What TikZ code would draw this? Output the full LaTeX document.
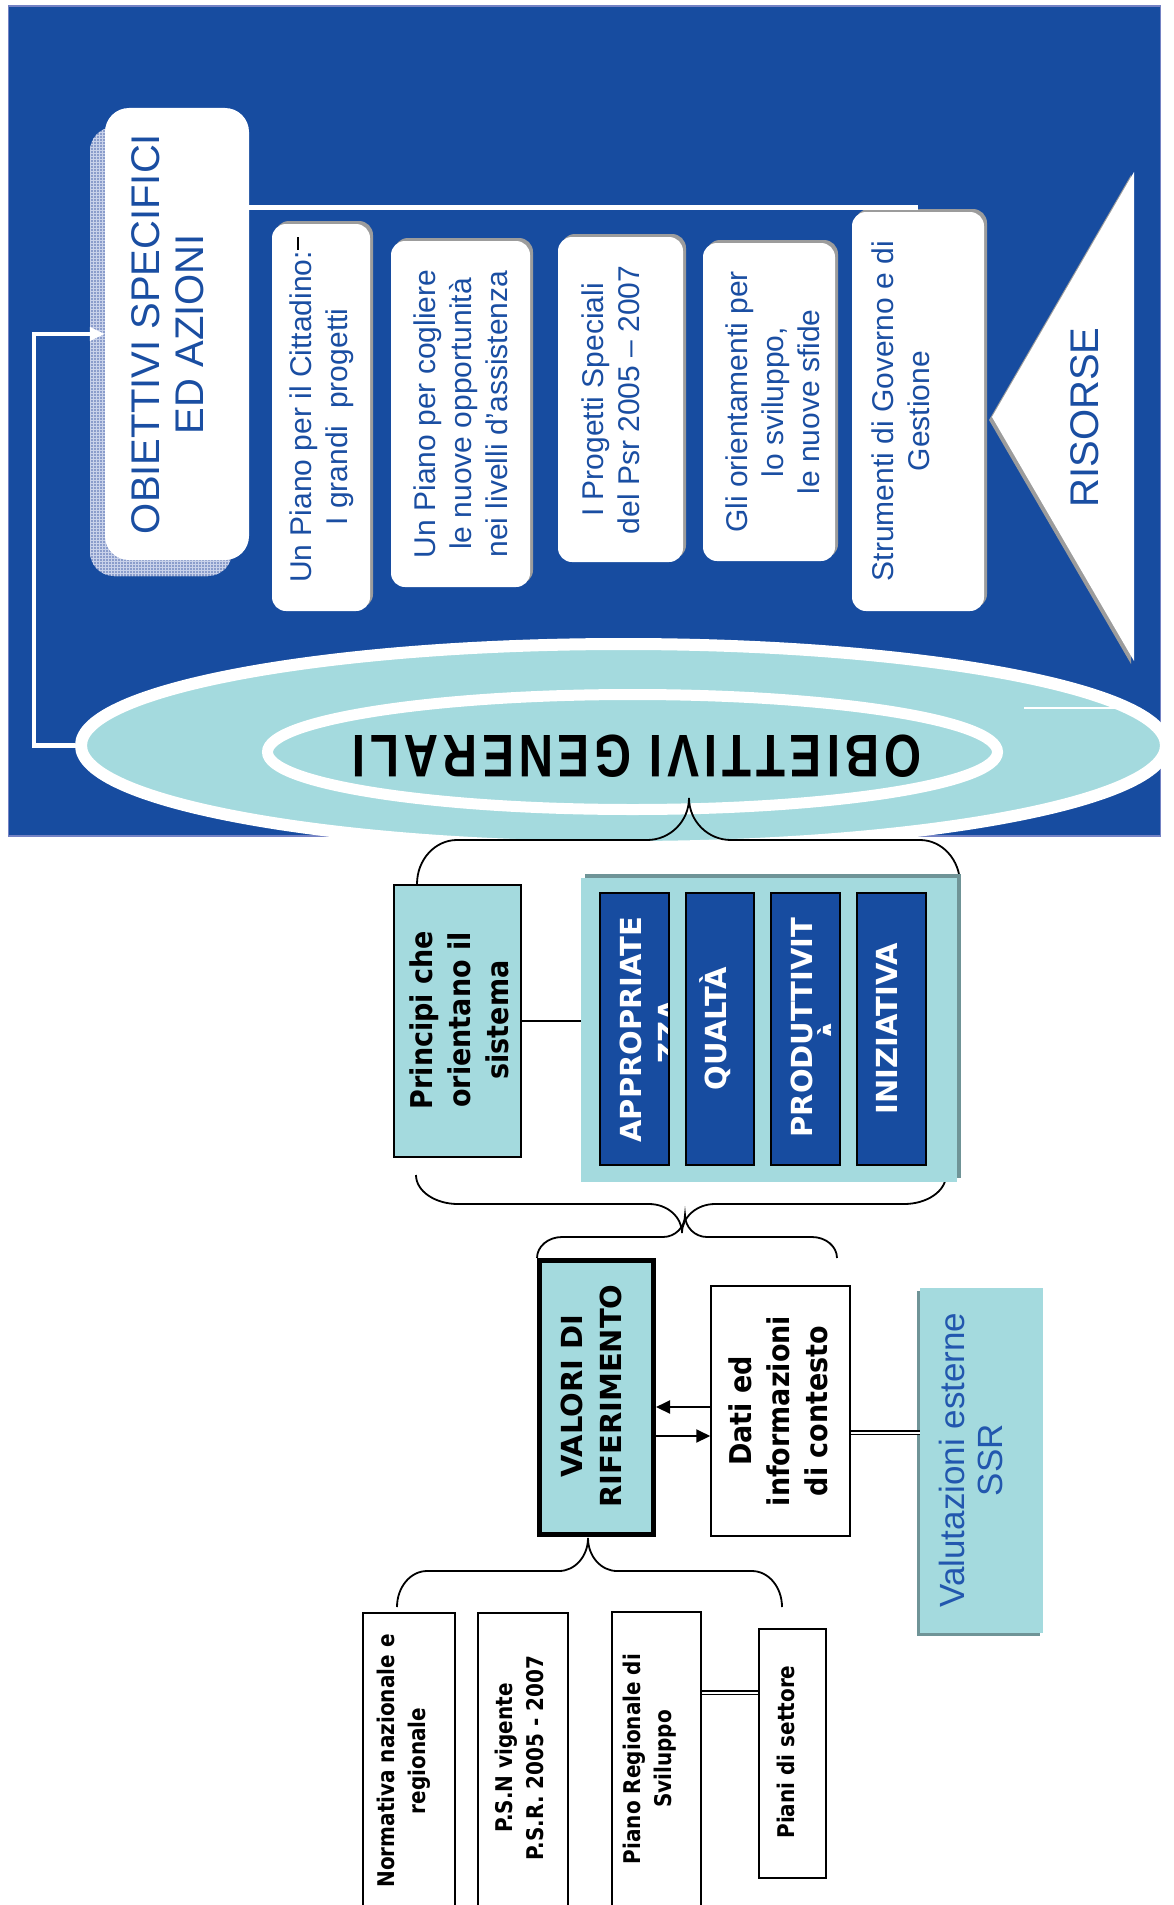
\documentclass[tikz,border=0pt]{standalone}
\usepackage{graphicx}
\usepackage{fontspec}
\setmainfont{Liberation Sans}
\newfontfamily\dvb{DejaVu Sans}
\newfontfamily\dvbn{DejaVu Sans}[FakeStretch=0.9]
\newfontfamily\dvbs{DejaVu Sans}[FakeStretch=0.87]
\usetikzlibrary{arrows.meta,patterns,shapes.geometric}

\definecolor{bgblue}{HTML}{174CA0}
\definecolor{teal2}{HTML}{A4DADE}
\definecolor{txtblue}{HTML}{1A4EA2}
\definecolor{valblue}{HTML}{2257AE}
\definecolor{shgrey}{HTML}{9C9C9C}
\definecolor{tealsh}{HTML}{6F9497}
\definecolor{rectedge}{HTML}{7482C4}
\definecolor{patcol}{HTML}{8B9DCB}
\definecolor{patline}{HTML}{C9D2EA}

\newcommand\mybrace[8]{% lx rx ey by tx ty R a
\draw[brc] (#1,#3)
 .. controls (#1,{#3+0.552*(#4-#3)}) and ({#1+#7-0.552*#7},#4) .. ({#1+#7},#4)
 -- ({#5-#8},#4)
 .. controls ({#5-#8+0.552*#8},#4) and (#5,{#6+0.552*(#4-#6)}) .. (#5,#6)
 .. controls (#5,{#6+0.552*(#4-#6)}) and ({#5+#8-0.552*#8},#4) .. ({#5+#8},#4)
 -- ({#2-#7},#4)
 .. controls ({#2-#7+0.552*#7},#4) and (#2,{#3+0.552*(#4-#3)}) .. (#2,#3);}

\begin{document}
\begin{tikzpicture}[x=1pt,y=-1pt,
 rectbox/.style={rectangle, inner sep=0pt},
 wbox/.style={rectbox, fill=white, rounded corners=14pt},
 wshadow/.style={rectbox, fill=shgrey, rounded corners=14pt},
 itemtxt/.style={rotate=90, align=center, inner sep=0pt, text=txtblue, font=\fontsize{30}{36}\selectfont},
 bigtxt/.style={rotate=90, align=center, inner sep=0pt, text=txtblue, font=\fontsize{40}{44}\selectfont},
 lbl/.style={rotate=90, align=center, inner sep=0pt, font=\dvbn\bfseries\fontsize{30}{38}\selectfont},
 vallbl/.style={rotate=90, align=center, inner sep=0pt, font=\dvb\bfseries\fontsize{29}{39}\selectfont},
 smalllbl/.style={rotate=90, align=center, inner sep=0pt, font=\dvbs\bfseries\fontsize{23}{31}\selectfont},
 caplbl/.style={rotate=90, inner sep=0pt, text=white, font=\dvb\bfseries\fontsize{29}{35}\selectfont},
 bluebox/.style={rectbox, fill=bgblue, draw=black, line width=1.8pt},
 whitebox/.style={rectbox, fill=white, draw=black, line width=2pt},
 brc/.style={draw=black, line width=1.8pt},
 wline/.style={draw=white, line width=4.5pt},
 arr/.style={draw=black, line width=2pt, -{Triangle[length=14pt,width=13pt]}},
 dbl/.style={draw=black, double=white, double distance=2pt, line width=1.8pt}]
\useasboundingbox (0,0) rectangle (1174,1905);

% background panel
\node[rectbox, fill=bgblue, draw=rectedge, line width=1.5pt, minimum width=1152pt, minimum height=830pt] (bg) at (584.5,421) {};

% OBIETTIVI SPECIFICI
\node[rectbox, fill=patcol, rounded corners=24pt, minimum width=142pt, minimum height=449pt, postaction={pattern=grid, pattern color=patline}] (obsh) at (161,351.5) {};
\node[rectbox, fill=white, rounded corners=24pt, minimum width=144pt, minimum height=452pt] (obs) at (177,334) {};
\node[bigtxt] (obst) at (167.5,334) {OBIETTIVI SPECIFICI\\ED AZIONI};

% item boxes
\node[wshadow, minimum width=98pt, minimum height=387pt] (b1s) at (324,414.5) {};
\node[wbox, minimum width=98pt, minimum height=387pt] (b1) at (321,417.5) {};
\node[itemtxt] (b1t) at (322,417) {Un Piano per il Cittadino:\\I grandi~~progetti};
\coordinate (m1) at (298,237); \coordinate (m2) at (298,250);
\draw[black, line width=1.2pt] (m1) -- (m2);

\node[wshadow, minimum width=139pt, minimum height=346pt] (b2s) at (463.5,411) {};
\node[wbox, minimum width=139pt, minimum height=346pt] (b2) at (460.5,414) {};
\node[itemtxt] (b2t) at (461,414) {Un Piano per cogliere\\le nuove opportunità\\nei livelli d’assistenza};

\node[wshadow, minimum width=125pt, minimum height=325pt] (b3s) at (623.5,396.5) {};
\node[wbox, minimum width=125pt, minimum height=325pt] (b3) at (620.5,399.5) {};
\node[itemtxt] (b3t) at (611,400) {I Progetti Speciali\\del Psr 2005 – 2007};

\node[wshadow, minimum width=132pt, minimum height=318pt] (b4s) at (772,399) {};
\node[wbox, minimum width=132pt, minimum height=318pt] (b4) at (769,402) {};
\node[itemtxt] (b4t) at (773,402) {Gli orientamenti per\\lo sviluppo,\\le nuove sfide};

\node[wshadow, minimum width=132pt, minimum height=399pt] (b5s) at (921,408.5) {};
\node[wbox, minimum width=132pt, minimum height=399pt] (b5) at (918,411.5) {};
\node[itemtxt] (b5t) at (901,411) {Strumenti di Governo e di\\Gestione};

% top white line
\coordinate (tl) at (0,207.5);
\draw[wline] (obs.east |- tl) -- (b5.north |- tl);

% RISORSE triangle
\coordinate (ra) at (992,417); \coordinate (rt) at (1134,172); \coordinate (rb) at (1134,661);
\fill[shgrey] ([shift={(-3,3)}]ra) -- ([shift={(-3,3)}]rt) -- ([shift={(-3,3)}]rb) -- cycle;
\fill[white] (ra) -- (rt) -- (rb) -- cycle;
\node[bigtxt] (ris) at (1085,417.5) {RISORSE};

% ellipses
\node[ellipse, fill=teal2, draw=white, line width=12pt, minimum width=1085pt, minimum height=203pt, inner sep=0pt] (og) at (623.5,745.5) {};
\node[ellipse, fill=teal2, draw=white, line width=11pt, minimum width=730pt, minimum height=115pt, inner sep=0pt] (ig) at (632.5,752) {};
\node[rotate=180, inner sep=0pt] (ogt) at (636.5,756) {\resizebox{569pt}{42pt}{\bfseries\addfontfeatures{LetterSpace=10}OBIETTIVI~GENERALI}};

\coordinate (wl1) at (1024,708); \coordinate (wl2) at (1123,708);
\draw[white, line width=2.5pt] (wl1) -- (wl2);

% left connector back to the objectives box
\coordinate (lc) at (34,334);
\draw[wline, -{Triangle[length=15pt,width=13pt]}] (og.west) -| (lc) -- (obs.west);

% braces
\mybrace{417}{960}{884}{840}{689}{798}{40}{42}
\mybrace{416}{946}{1175}{1204}{682}{1233}{42}{33}
\mybrace{537}{837}{1258}{1237}{685}{1215}{25}{22}
\mybrace{397}{782}{1607}{1571}{588}{1538}{30}{29}

% principles
\node[rectbox, draw=black, line width=2.5pt, fill=teal2, minimum width=127pt, minimum height=272pt] (pr) at (457.5,1021) {};
\node[lbl] (prt) at (459.5,1020) {Principi che\\orientano il\\sistema};

\node[rectbox, fill=tealsh, minimum width=376pt, minimum height=304pt] (bigs) at (773,1026) {};
\node[rectbox, fill=teal2, minimum width=376pt, minimum height=304pt] (big) at (769,1030) {};
\draw[black, line width=2pt] (pr.east) -- (pr.east -| big.west);

\node[bluebox, minimum width=69pt, minimum height=272pt] (v1) at (634.5,1029) {};
\node[bluebox, minimum width=68pt, minimum height=272pt] (v2) at (720,1029) {};
\node[bluebox, minimum width=69pt, minimum height=272pt] (v3) at (805.5,1029) {};
\node[bluebox, minimum width=69pt, minimum height=272pt] (v4) at (891.5,1029) {};
\node[caplbl] (v1t) at (631,1029.5) {APPROPRIATE};
\begin{scope}
\clip (601,894) rectangle (667.5,1164);
\node[caplbl] (v1u) at (669,1031) {ZZA};
\end{scope}
\node[caplbl] (v2t) at (715,1028.5) {QUALTÀ};
\node[caplbl] (v3t) at (801.5,1027.5) {PRODUTTIVIT};
\begin{scope}
\clip (772,894) rectangle (830,1164);
\node[caplbl] (v3u) at (831.5,1030.5) {À};
\end{scope}
\node[caplbl] (v4t) at (887,1028.5) {INIZIATIVA};

% reference values
\node[rectbox, draw=black, line width=5pt, fill=teal2, minimum width=114pt, minimum height=274pt] (val) at (596.5,1397.5) {};
\node[vallbl] (valt) at (591,1396) {VALORI DI\\RIFERIMENTO};

\node[whitebox, line width=1.5pt, minimum width=139pt, minimum height=250pt] (dati) at (780.5,1411) {};
\node[lbl] (datit) at (778.5,1411) {Dati ed\\informazioni\\di contesto};

\coordinate (ya) at (0,1407); \coordinate (yb) at (0,1436);
\draw[arr] (dati.west |- ya) -- (val.east |- ya);
\draw[arr] (val.east |- yb) -- (dati.west |- yb);

\node[rectbox, fill=tealsh, minimum width=123pt, minimum height=345pt] (vals) at (978.5,1463.5) {};
\node[rectbox, fill=teal2, minimum width=123pt, minimum height=345pt] (vest) at (981.5,1460.5) {};
\node[rotate=90, align=center, inner sep=0pt, text=valblue, font=\fontsize{35}{38}\selectfont] (vestt) at (971,1460) {Valutazioni esterne\\SSR};
\coordinate (yc) at (0,1432.5);
\draw[dbl] (dati.east |- yc) -- (vest.west |- yc);

% bottom sources
\node[whitebox, minimum width=92pt, minimum height=302pt] (norm) at (409,1764) {};
\node[whitebox, minimum width=90pt, minimum height=302pt] (psn) at (523,1764) {};
\node[whitebox, minimum width=89pt, minimum height=303pt] (prs) at (656.5,1763.5) {};
\node[whitebox, minimum width=67pt, minimum height=249pt] (pds) at (792.5,1753.5) {};
\node[smalllbl] (normt) at (404,1761) {Normativa nazionale e\\regionale};
\node[smalllbl] (psnt) at (519,1758) {P.S.N vigente\\P.S.R. 2005 - 2007};
\node[smalllbl] (prst) at (650,1759) {Piano Regionale di\\Sviluppo};
\node[smalllbl] (pdst) at (786,1752) {Piani di settore};
\coordinate (yd) at (0,1692.5);
\draw[dbl] (prs.east |- yd) -- (pds.west |- yd);
\end{tikzpicture}
\end{document}
